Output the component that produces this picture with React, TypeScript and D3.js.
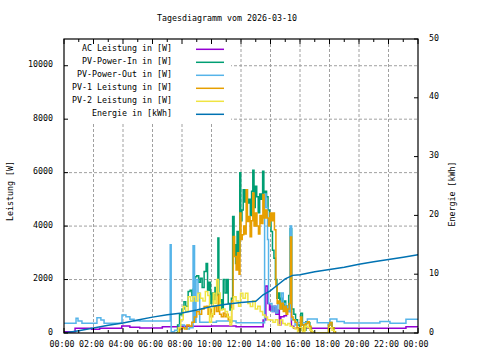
import * as d3 from "d3";

// time in minutes of day, power in W
const acPower: [number, number][] = [
  [0, 50], [45, 175], [112, 140], [145, 175], [235, 260], [268, 215], [308, 190],
  [400, 230], [480, 250], [600, 260], [700, 235], [810, 490], [821, 1760], [829, 1100],
  [836, 860], [842, 1000], [848, 800], [855, 1000], [862, 700], [870, 860], [876, 300],
  [882, 610], [895, 650], [905, 900], [915, 800], [925, 250], [935, 175], [1391, 235], [1440, 235],
];

const pvPowerIn: [number, number][] = [
  [455, 0], [462, 300], [470, 680], [480, 900], [488, 1170], [495, 1000], [505, 1550], [513, 1600],
  [520, 1400], [526, 1650], [533, 2100], [540, 2140], [548, 1900], [555, 2050], [562, 1700],
  [570, 2300], [578, 2600], [584, 1600], [590, 1900], [596, 1100], [602, 1500], [608, 1250],
  [614, 1700], [620, 1400], [626, 3550], [630, 1200], [636, 1240], [642, 900], [648, 2000],
  [655, 1500], [662, 2000], [668, 1100], [675, 860], [681, 1300], [686, 4360], [692, 3300],
  [698, 2600], [704, 3800], [710, 2900], [715, 6000], [719, 4200], [724, 4600], [729, 5360],
  [735, 4900], [740, 5360], [746, 4860], [752, 5000], [758, 4400], [763, 5300], [768, 6090],
  [773, 4700], [778, 5490], [784, 5100], [790, 4500], [796, 5200], [802, 5000], [808, 6050],
  [813, 4800], [818, 5300], [824, 5100], [830, 4600], [836, 4360], [842, 3800], [848, 3100],
  [854, 2800], [860, 2000], [866, 1300], [872, 1500], [878, 1100], [884, 1300], [890, 900],
  [896, 1200], [902, 800], [908, 1000], [914, 1400], [920, 3900], [926, 900], [935, 700],
  [942, 500], [950, 300], [958, 100], [963, 740], [970, 300], [978, 100], [984, 420], [992, 380],
  [1000, 200], [1006, 50], [1012, 0], [1072, 0], [1076, 300], [1082, 390], [1090, 200],
  [1098, 50], [1104, 0],
];

const pvPowerOut: [number, number][] = [
  [0, 364], [49, 550], [57, 450], [73, 364], [134, 575], [150, 490], [163, 364], [236, 675],
  [252, 610], [268, 515], [285, 460], [309, 450], [432, 3300], [436, 50], [450, 100], [470, 300],
  [490, 200], [500, 150], [510, 200], [525, 3260], [531, 400], [537, 2000], [545, 1500],
  [552, 400], [620, 450], [700, 380], [816, 5200], [822, 4700], [828, 3500], [832, 1100],
  [846, 800], [854, 1000], [862, 750], [870, 1100], [878, 900], [885, 1500],
  [892, 1100], [900, 900], [908, 1000], [914, 800], [920, 4000], [926, 500], [940, 300],
  [950, 380], [990, 520], [1030, 385], [1075, 300], [1082, 525], [1110, 430], [1140, 370],
  [1285, 430], [1326, 364], [1391, 515], [1440, 515],
];

const pv1Power: [number, number][] = [
  [458, 0], [470, 150], [480, 200], [490, 150], [500, 300], [510, 250], [520, 400], [530, 600],
  [540, 800], [550, 700], [560, 900], [570, 990], [580, 1000], [586, 700], [592, 900], [598, 610],
  [605, 700], [612, 990], [620, 800], [627, 1425], [633, 700], [640, 610], [648, 750], [655, 610],
  [662, 700], [668, 500], [675, 400], [682, 1200], [688, 3610], [694, 2860], [700, 2360],
  [706, 3000], [712, 2200], [716, 4490], [720, 3500], [725, 3675], [731, 4000], [737, 3700],
  [741, 5360], [746, 4170], [752, 4360], [757, 3600], [763, 4200], [768, 5240], [773, 4000],
  [779, 4490], [785, 4000], [791, 3700], [797, 4400], [803, 4100], [809, 5180], [814, 4300],
  [820, 4600], [826, 4300], [832, 4000], [838, 4490], [844, 4200], [850, 4490], [856, 3860],
  [862, 1800], [867, 1100], [873, 1200], [879, 900], [885, 1110], [892, 800], [898, 1000],
  [904, 700], [910, 900], [916, 1100], [921, 3590], [926, 600], [932, 500], [940, 400],
  [948, 200], [955, 100], [962, 600], [968, 300], [975, 100], [982, 350], [990, 420],
  [998, 250], [1005, 50], [1012, 0], [1072, 0], [1076, 300], [1082, 390], [1090, 200],
  [1098, 50], [1104, 0],
];

const pv2Power: [number, number][] = [
  [458, 0], [465, 200], [475, 500], [485, 990], [495, 800], [505, 1360], [515, 1200], [525, 1360],
  [535, 1200], [545, 1490], [555, 1300], [565, 1200], [575, 1550], [585, 1400], [592, 400],
  [600, 700], [607, 1490], [614, 1100], [621, 2000], [628, 1500], [635, 860], [645, 900],
  [655, 800], [665, 600], [675, 300], [682, 900], [690, 1360], [700, 1200], [710, 1000],
  [718, 1490], [728, 1300], [738, 1490], [748, 1100], [758, 990], [768, 1200], [778, 900],
  [788, 1000], [798, 800], [808, 675], [818, 600], [828, 500], [838, 490], [850, 400],
  [860, 500], [870, 300], [880, 490], [890, 360], [900, 300], [910, 360], [920, 250],
  [930, 200], [940, 150], [950, 50], [960, 200], [970, 50], [980, 250], [990, 200],
  [1000, 100], [1010, 0], [1075, 0], [1080, 200], [1090, 100], [1100, 0],
];

// hour, kWh
const energy: [number, number][] = [
  [0, 0], [1, 0.4], [2, 0.85], [3, 1.3], [4, 1.7], [5, 2.2], [6, 2.7], [7, 3.1], [8, 3.4],
  [9, 3.9], [10, 4.5], [11, 4.9], [12, 5.2], [13, 5.4], [13.5, 6.5], [14, 7.2], [14.5, 8.2],
  [15, 9.2], [15.5, 9.8], [16, 9.9], [17, 10.4], [18, 10.8], [19, 11.2], [20, 11.7], [21, 12.1],
  [22, 12.5], [23, 12.9], [24, 13.3],
];

const xTickLabels = ["00:00", "02:00", "04:00", "06:00", "08:00", "10:00", "12:00", "14:00",
  "16:00", "18:00", "20:00", "22:00", "00:00"];
const leftTicks = [0, 2000, 4000, 6000, 8000, 10000];
const rightTicks = [0, 10, 20, 30, 40, 50];

const legendItems = [
  { label: "AC Leistung in [W]", color: "#9400d3" },
  { label: "PV-Power-In in [W]", color: "#009e73" },
  { label: "PV-Power-Out in [W]", color: "#56b4e9" },
  { label: "PV-1 Leistung in [W]", color: "#e69f00" },
  { label: "PV-2 Leistung in [W]", color: "#f0e442" },
  { label: "Energie in [kWh]", color: "#0072b2" },
];

const font = "'DejaVu Sans Mono', monospace";

export default function App() {
  const left = 64, right = 418, top = 39, bottom = 333;

  const x = d3.scaleLinear().domain([0, 1440]).range([left, right]);
  const yL = d3.scaleLinear().domain([0, 11000]).range([bottom, top]);
  const yR = d3.scaleLinear().domain([0, 50]).range([bottom, top]);

  const powerLine = d3
    .line<[number, number]>()
    .x((d) => x(d[0]))
    .y((d) => yL(d[1]))
    .curve(d3.curveStepAfter);

  const energyLine = d3
    .line<[number, number]>()
    .x((d) => x(d[0] * 60))
    .y((d) => yR(d[1]));

  const powerSeries = [
    { data: acPower, color: legendItems[0].color },
    { data: pvPowerIn, color: legendItems[1].color },
    { data: pvPowerOut, color: legendItems[2].color },
    { data: pv1Power, color: legendItems[3].color },
    { data: pv2Power, color: legendItems[4].color },
  ];

  const hourTicks = d3.range(0, 1441, 60);

  return (
    <svg width={480} height={360} style={{ position: "fixed", left: 0, top: 0, background: "#fff" }}
      fontFamily={font} fontSize={8.3}>
      <defs>
        <clipPath id="plot">
          <rect x={left} y={top} width={right - left} height={bottom - top} />
        </clipPath>
      </defs>
      <rect width={480} height={360} fill="#fff" />

      {/* grid */}
      {hourTicks.filter((t) => t % 120 === 0 && t > 0 && t < 1440).map((t) => (
        <line key={"gx" + t} x1={x(t)} x2={x(t)} y1={top} y2={bottom}
          stroke="#a0a0a0" strokeDasharray="3,2" />
      ))}
      {leftTicks.filter((t) => t > 0).map((t) => (
        <line key={"gy" + t} x1={left} x2={right} y1={yL(t)} y2={yL(t)}
          stroke="#a0a0a0" strokeDasharray="3,2" />
      ))}

      {/* key background */}
      <rect x={left + 1} y={top + 1} width={166} height={82} fill="#fff" />

      <g clipPath="url(#plot)" fill="none" strokeWidth={1.5}>
        {powerSeries.map((s, i) => (
          <path key={i} d={powerLine(s.data) ?? ""} stroke={s.color} />
        ))}
        <path d={energyLine(energy) ?? ""} stroke={legendItems[5].color} />
      </g>

      {/* ticks */}
      {hourTicks.map((t) => {
        const len = t % 120 === 0 ? 5 : 3;
        return (
          <g key={"tx" + t} stroke="#000">
            <line x1={x(t)} x2={x(t)} y1={bottom} y2={bottom - len} />
            <line x1={x(t)} x2={x(t)} y1={top} y2={top + len} />
          </g>
        );
      })}
      {leftTicks.map((t) => (
        <line key={"tl" + t} x1={left} x2={left + 4} y1={yL(t)} y2={yL(t)} stroke="#000" />
      ))}
      {rightTicks.map((t) => (
        <line key={"tr" + t} x1={right} x2={right - 4} y1={yR(t)} y2={yR(t)} stroke="#000" />
      ))}

      <rect x={left} y={top} width={right - left} height={bottom - top} fill="none"
        stroke="#000" strokeWidth={1.2} />

      {/* tick labels */}
      {xTickLabels.map((lab, i) => (
        <text key={"lx" + i} x={x(i * 120) - 2} y={344} textAnchor="middle"
          dominantBaseline="middle">{lab}</text>
      ))}
      {leftTicks.map((t) => (
        <text key={"ll" + t} x={53} y={yL(t) - 1} textAnchor="end"
          dominantBaseline="middle">{t}</text>
      ))}
      {rightTicks.map((t) => (
        <text key={"lr" + t} x={429} y={yR(t) - 1} textAnchor="start"
          dominantBaseline="middle">{t}</text>
      ))}

      <text x={227} y={18} textAnchor="middle" dominantBaseline="middle">
        Tagesdiagramm vom 2026-03-10
      </text>
      <text transform="translate(10,191) rotate(-90)" textAnchor="middle"
        dominantBaseline="middle">Leistung [W]</text>
      <text transform="translate(452,194) rotate(-90)" textAnchor="middle"
        dominantBaseline="middle">Energie [kWh]</text>

      {/* key */}
      {legendItems.map((item, i) => {
        const cy = 49.3 + i * 13;
        return (
          <g key={"k" + i}>
            <text x={172} y={cy - 1} textAnchor="end" dominantBaseline="middle">{item.label}</text>
            <line x1={196} x2={224} y1={cy} y2={cy} stroke={item.color} strokeWidth={1.5} />
          </g>
        );
      })}
    </svg>
  );
}
